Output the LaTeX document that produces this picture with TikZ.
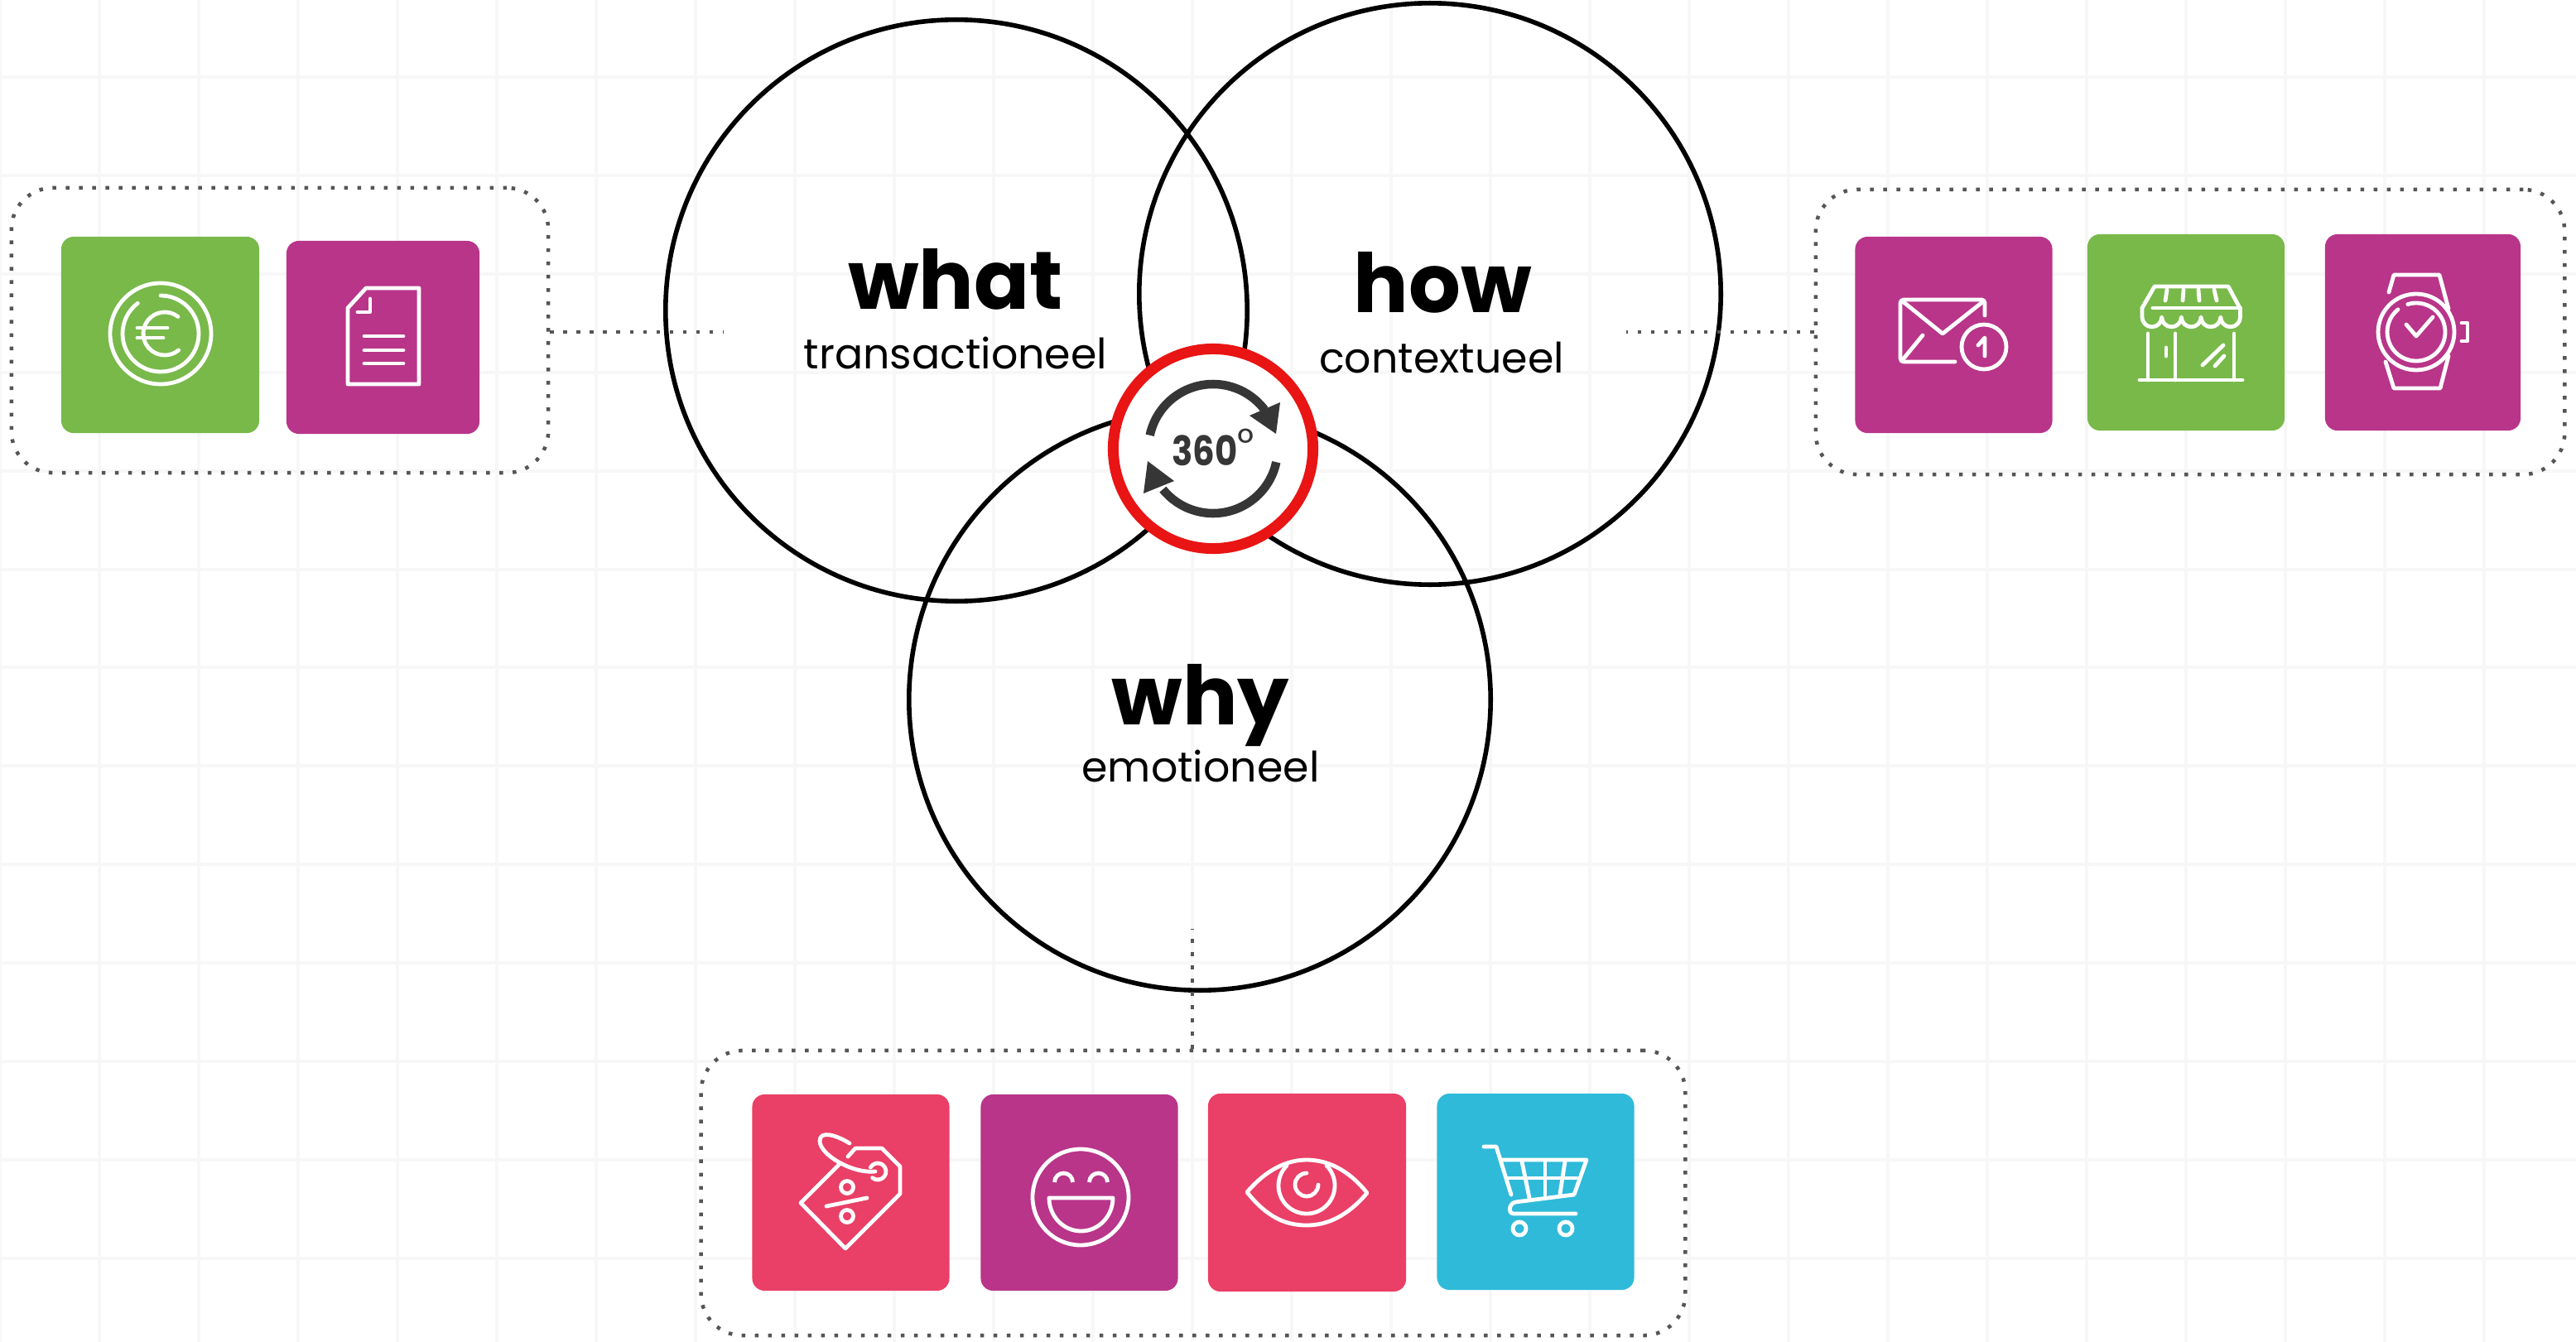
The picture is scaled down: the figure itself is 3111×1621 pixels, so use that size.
\documentclass[tikz,border=0pt]{standalone}
\usepackage{fontspec}
\setmainfont{Poppins}
\newfontfamily\ringfont[FakeStretch=.85]{Poppins}
\usetikzlibrary{positioning}
\definecolor{gridgray}{HTML}{F7F7F7}
\definecolor{dotgray}{HTML}{555555}
\definecolor{tilegreen}{HTML}{78B94A}
\definecolor{tilepurple}{HTML}{B83589}
\definecolor{tilered}{HTML}{EA3F66}
\definecolor{tileblue}{HTML}{2FBAD9}
\definecolor{ringred}{HTML}{E91414}
\definecolor{ringdark}{HTML}{363636}
\tikzset{
    venn/.style={circle, draw=black, line width=.056cm, inner sep=0, minimum size=7.02cm},
    dotbox/.style={draw=dotgray, line width=.045cm, dash pattern=on .045cm off .115cm, rounded corners=.5cm, inner sep=0},
    dotline/.style={draw=dotgray, line width=.045cm, dash pattern=on .045cm off .115cm},
    tile/.style={rounded corners=.15cm, inner sep=0, minimum width=2.38cm, minimum height=2.37cm},
    icon/.style={draw=white, line width=.048cm, line cap=round, line join=round},
    gridline/.style={draw=gridgray, line width=.04cm},
    bigword/.style={anchor=base, inner sep=0, font=\fontsize{28.1}{28}\selectfont\bfseries},
    smallword/.style={anchor=base, inner sep=0, font=\fontsize{14.4}{15}\selectfont},
    turn/.style={draw=ringdark, line width=.105cm}
}
\begin{document}
\begin{tikzpicture}[x=.01cm, y=-.01cm]
    \useasboundingbox (0,0) rectangle (3111,1621);
    % background grid
    \foreach \gx in {0,120,...,3000}
        \draw [gridline] (\gx,0)--(\gx,1621);
    \foreach \gy in {93,212,331,450,569,688,806,925,1044,1163,1282,1401,1520}
        \draw [gridline] (0,\gy)--(3111,\gy);

    \node [venn] (what) at (1155,375) {};
    \node [venn] (how) at (1727,355) {};
    \node [venn] (why) at (1449,845) {};

    \node [dotbox, minimum width=6.48cm, minimum height=3.44cm] (leftbox) at (338,399) {};
    \node [dotbox, minimum width=9.04cm, minimum height=3.44cm] (rightbox) at (2645,401) {};
    \node [dotbox, minimum width=11.88cm, minimum height=3.44cm] (bottombox) at (1441,1441) {};

    \coordinate (whatend) at (873,401);
    \coordinate (howend) at (1964,401);
    \coordinate (whyend) at (1440,1122);
    \draw [dotline] (leftbox.east |- whatend)--(whatend);
    \draw [dotline] (rightbox.west |- howend)--(howend);
    \draw [dotline] (bottombox.north -| whyend)--(whyend);

    \node [tile, fill=tilegreen, minimum width=2.39cm] (euro) at (193.5,404.5) {};
    \node [tile, fill=tilepurple, minimum width=2.33cm, minimum height=2.33cm] (doc) at (462.5,407.5) {};
    \node [tile, fill=tilepurple] (mail) at (2359.5,404.5) {};
    \node [tile, fill=tilegreen] (store) at (2640,401.5) {};
    \node [tile, fill=tilepurple, minimum width=2.36cm] (watch) at (2926,401.5) {};
    \node [tile, fill=tilered] (tag) at (1027.5,1440.5) {};
    \node [tile, fill=tilepurple] (smile) at (1303.5,1440.5) {};
    \node [tile, fill=tilered, minimum width=2.39cm, minimum height=2.39cm] (eye) at (1578.5,1440.5) {};
    \node [tile, fill=tileblue] (cart) at (1854.5,1439.5) {};

    % euro
    \draw [icon] (194,403) circle [radius=61];
    \draw [icon] (194,403)+(270:46) arc [start angle=270, end angle=593, radius=46];
    \draw [icon] (199,403)+(-52:26) arc [start angle=-52, end angle=-310, radius=26];
    \draw [icon] (166,396)--(202,396);
    \draw [icon] (166,408)--(197,408);
    % document
    \draw [icon] (442,348)--(506,348)--(506,464)--(420,464)--(420,372)--cycle;
    \draw [icon] (447,361)--(447,377)--(432,377);
    \foreach \ly in {406,423,439}
        \draw [icon] (440,\ly)--(487,\ly);
    % mail
    \draw [icon, rounded corners=.04cm] (2397,381)--(2397,362)--(2295,362)--(2295,437)--(2361,437);
    \draw [icon] (2299,365)--(2346,403)--(2394,365);
    \draw [icon] (2322,405)--(2299,433);
    \draw [icon] (2396,419) circle [radius=27];
    \draw [icon] (2389,417)--(2397,408)--(2397,430);
    % store
    \draw [icon] (2587,372)--(2602,346)--(2691,346)--(2705,372);
    \draw [icon] (2600,372)--(2705,372);
    \draw [icon] (2587,372)--(2587,383) arc [start angle=180, end angle=0, radius=11.85]
        arc [start angle=180, end angle=0, radius=11.85]
        arc [start angle=180, end angle=0, radius=11.85]
        arc [start angle=180, end angle=0, radius=11.85]
        arc [start angle=180, end angle=0, radius=11.85]--(2705.5,372);
    \draw [icon] (2617,350)--(2615,363);
    \draw [icon] (2637,350)--(2636,363);
    \draw [icon] (2655,350)--(2656,363);
    \draw [icon] (2674,350)--(2677,363);
    \draw [icon] (2594,403)--(2594,459);
    \draw [icon] (2627,403)--(2627,459);
    \draw [icon] (2698,403)--(2698,459);
    \draw [icon] (2584,459)--(2708,459);
    \draw [icon] (2616,420)--(2616,430);
    \draw [icon] (2685,417)--(2660,441);
    \draw [icon] (2686,430)--(2675,442);
    % watch
    \draw [icon] (2918,401) circle [radius=46];
    \draw [icon] (2918,401)+(253:35) arc [start angle=253, end angle=591, radius=35];
    \draw [icon] (2885,353)--(2891,332)--(2946,332)--(2957,373);
    \draw [icon] (2881,437)--(2891,469)--(2947,469)--(2957,430);
    \draw [icon] (2973,390)--(2980,390)--(2980,412)--(2973,412);
    \draw [icon] (2906,392)--(2918,406)--(2938,383);
    % tag
    \draw [icon] (1024,1397)--(1033,1387)--(1065,1387)--(1087,1409)--(1087,1442)--(1021,1508)--(967,1453)--(1014,1406);
    \draw [icon] (1026,1381) .. controls (1010,1371) and (990,1365) .. (990,1378) .. controls (990,1395) and (1030,1418) .. (1057,1415);
    \draw [icon] (1060,1415)+(130:10) arc [start angle=130, end angle=-150, radius=10];
    \draw [icon] (1023,1434) circle [radius=7.5];
    \draw [icon] (1023,1469) circle [radius=7.5];
    \draw [icon] (998,1457)--(1047,1447);
    % smile
    \draw [icon] (1305,1446) circle [radius=58];
    \draw [icon] (1267,1447)--(1344,1447) arc [start angle=0, end angle=180, x radius=38.5, y radius=40];
    \draw [icon, line cap=butt] (1273.5,1428) arc [start angle=180, end angle=360, radius=11];
    \draw [icon, line cap=butt] (1315.5,1428) arc [start angle=180, end angle=360, radius=11];
    % eye
    \draw [icon] (1506,1440) .. controls (1530,1412) and (1555,1401) .. (1578,1401) .. controls (1602,1401) and (1628,1412) .. (1651,1441) .. controls (1628,1468) and (1604,1480) .. (1578,1480) .. controls (1552,1480) and (1530,1470) .. cycle;
    \draw [icon] (1578,1432)+(225:34) arc [start angle=225, end angle=-45, radius=34];
    \draw [icon] (1578,1431)+(270:14) arc [start angle=270, end angle=0, radius=14];
    % cart
    \draw [icon] (1792,1385)--(1807,1385)--(1825,1443);
    \draw [icon] (1812,1401)--(1916,1401)--(1901,1443)--(1830,1452) .. controls (1822,1454) and (1821,1466) .. (1828,1466)--(1903,1466);
    \draw [icon] (1820,1423)--(1904,1423);
    \draw [icon] (1838,1403)--(1847,1447);
    \draw [icon] (1866,1403)--(1866,1443);
    \draw [icon] (1890,1403)--(1884,1442);
    \draw [icon] (1835,1484) circle [radius=8];
    \draw [icon] (1891,1484) circle [radius=8];

    % centre ring
    \node [circle, draw=ringred, fill=white, line width=.13cm, inner sep=0, minimum size=2.41cm, text=ringdark,
        font=\fontsize{14}{14}\selectfont] (ring) at (1465,542) {\raisebox{.04cm}{{\ringfont\bfseries 360}\raisebox{.2em}{°}}};
    \draw [turn] (1465,542)+(192:78) arc [start angle=192, end angle=323, radius=78];
    \draw [turn] (1465,542)+(12:78) arc [start angle=12, end angle=141, radius=78];
    \fill [ringdark] (1546,486)--(1541,524)--(1509,502)--cycle;
    \fill [ringdark] (1386,557)--(1381,596)--(1418,581)--cycle;

    \node [bigword] (whatword) at (1154,373) {what};
    \node [smallword] (whatsub) at (1154,445) {transactioneel};
    \node [bigword] (howword) at (1742,377) {how};
    \node [smallword] (howsub) at (1741,450) {contextueel};
    \node [bigword] (whyword) at (1450,875) {why};
    \node [smallword] (whysub) at (1450,944) {emotioneel};
\end{tikzpicture}
\end{document}
